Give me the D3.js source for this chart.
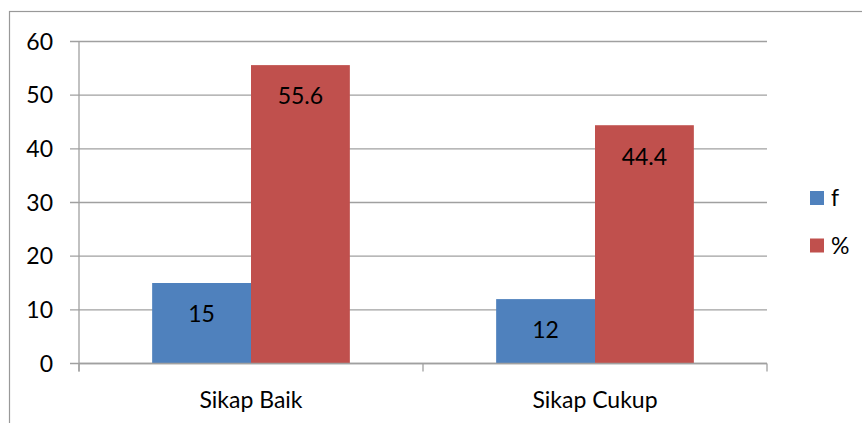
<!DOCTYPE html>
<html lang="en">
<head>
    <meta charset="UTF-8">
    <title>Sikap</title>
    <script src="https://d3js.org/d3.v7.min.js"></script>
    <style>
        body, html {
            margin: 0px;
            background: #fff;
            overflow: hidden;
            font-family: 'Lato', sans-serif;
        }
        svg { display: block; }
    </style>
</head>
<body>
    <div id="chart"></div>
    <script>
        const categories = ["Sikap Baik", "Sikap Cukup"]
        const seriesNames = ["f", "%"]
        const fValues = [15, 12]
        const pctValues = [55.6, 44.4]
        const yTicks = [0, 10, 20, 30, 40, 50, 60]
        const colors = ["#4F81BD", "#C0504D"]

        const width = 862, height = 423
        const plotLeft = 79, plotRight = 767, plotTop = 41.5, plotBottom = 363.5
        const fontSize = "23px"

        const svg = d3.select("#chart").append("svg")
            .attr("width", width)
            .attr("height", height)

        // outer chart border
        svg.append("rect")
            .attr("x", 9.5).attr("y", 11.5)
            .attr("width", 860).attr("height", 420)
            .attr("fill", "none")
            .attr("stroke", "#999")
            .attr("stroke-width", 1.2)

        const x0 = d3.scaleBand().domain(categories).range([plotLeft, plotRight])
        const x1 = d3.scaleBand().domain(seriesNames)
            .range([0, x0.bandwidth()]).paddingOuter(0.74).paddingInner(0)
        const y = d3.scaleLinear().domain([0, 60]).range([plotBottom, plotTop])

        // gridlines
        svg.append("g").selectAll("line").data(yTicks).join("line")
            .attr("x1", plotLeft - 9).attr("x2", plotRight)
            .attr("y1", d => y(d)).attr("y2", d => y(d))
            .attr("stroke", "#a0a0a0").attr("stroke-width", 1.3)

        // y axis
        svg.append("line")
            .attr("x1", plotLeft).attr("x2", plotLeft)
            .attr("y1", plotTop).attr("y2", plotBottom + 8)
            .attr("stroke", "#a0a0a0").attr("stroke-width", 1.3)

        svg.append("g").selectAll("text").data(yTicks).join("text")
            .attr("x", 53).attr("y", d => y(d))
            .attr("dy", "0.36em")
            .attr("text-anchor", "end")
            .style("font-size", fontSize)
            .text(d => d)

        // category ticks
        const catTicks = [plotLeft, plotLeft + x0.bandwidth(), plotRight]
        svg.append("g").selectAll("line").data(catTicks).join("line")
            .attr("x1", d => d).attr("x2", d => d)
            .attr("y1", plotBottom).attr("y2", plotBottom + 8)
            .attr("stroke", "#a0a0a0").attr("stroke-width", 1.3)

        const data = categories.map((c, i) => ({ cat: c, vals: [fValues[i], pctValues[i]] }))

        const groups = svg.append("g").selectAll("g").data(data).join("g")
            .attr("transform", d => `translate(${x0(d.cat)},0)`)

        groups.selectAll("rect").data(d => d.vals.map((v, j) => ({ s: seriesNames[j], v, j })))
            .join("rect")
            .attr("x", d => x1(d.s))
            .attr("y", d => y(d.v))
            .attr("width", x1.bandwidth())
            .attr("height", d => plotBottom - y(d.v))
            .attr("fill", d => colors[d.j])

        groups.selectAll("text").data(d => d.vals.map((v, j) => ({ s: seriesNames[j], v, j })))
            .join("text")
            .attr("x", d => x1(d.s) + x1.bandwidth() / 2)
            .attr("y", d => y(d.v) + 31)
            .attr("dy", "0.36em")
            .attr("text-anchor", "middle")
            .style("font-size", fontSize)
            .text(d => d.v)

        // x axis base line
        svg.append("line")
            .attr("x1", plotLeft).attr("x2", plotRight)
            .attr("y1", plotBottom).attr("y2", plotBottom)
            .attr("stroke", "#a0a0a0").attr("stroke-width", 1.3)

        // category labels
        svg.append("g").selectAll("text").data(categories).join("text")
            .attr("x", d => x0(d) + x0.bandwidth() / 2)
            .attr("y", 400)
            .attr("dy", "0.36em")
            .attr("text-anchor", "middle")
            .style("font-size", fontSize)
            .text(d => d)

        // legend
        const legend = svg.append("g").selectAll("g").data(seriesNames).join("g")
            .attr("transform", (d, i) => `translate(810,${191 + i * 47.5})`)
        legend.append("rect")
            .attr("width", 14).attr("height", 14)
            .attr("fill", (d, i) => colors[i])
        legend.append("text")
            .attr("x", 21).attr("y", 7)
            .attr("dy", "0.36em")
            .style("font-size", fontSize)
            .text(d => d)
    </script>
</body>
</html>
